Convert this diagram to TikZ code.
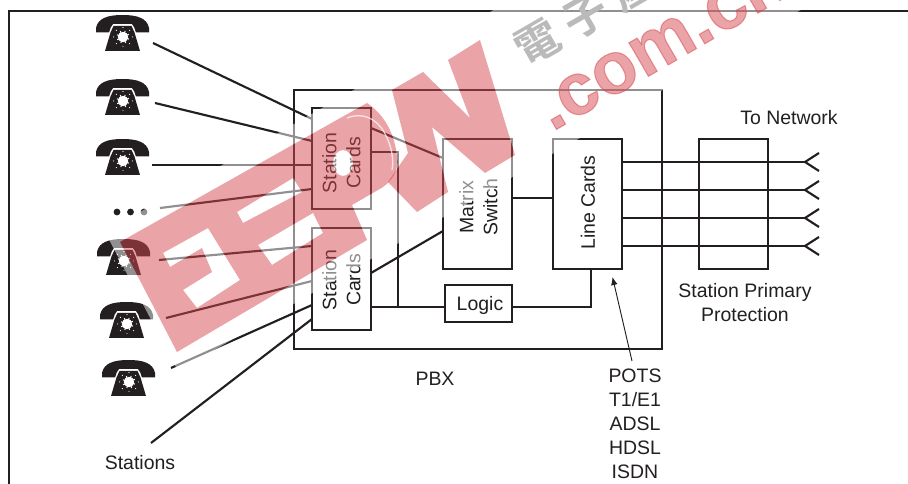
\documentclass[tikz,border=0pt]{standalone}
\usepackage{fontspec}
\setmainfont{Liberation Sans}
\newfontfamily\cjkwm{Noto Sans CJK TC}[BoldFont=* Bold]
\newfontfamily\wmlatin{Liberation Sans Bold}[FakeBold=1.5]
\usetikzlibrary{arrows.meta}
\definecolor{ink}{HTML}{231F20}
\definecolor{wmred}{RGB}{214,72,78}
\tikzset{
  wire/.style={draw=ink,line width=1.6pt},
  frameline/.style={draw=ink,line width=2.2pt},
  box/.style={draw=ink,line width=1.6pt,rectangle,inner sep=0pt},
  lbl/.style={text=ink,font=\fontsize{14.6}{18}\selectfont,inner sep=0pt,align=center},
  rot/.style={lbl,rotate=90},
  phone/.pic={
    \fill[ink] (0,17.5) -- (0,13) .. controls (2,3) and (12,0) .. (26.5,0)
      .. controls (41,0) and (51,3) .. (53,13) -- (53,17.5) -- (40,17.5)
      .. controls (39,14) and (38,11) .. (36,9) -- (17,9)
      .. controls (15,11) and (14,14) .. (13,17.5) -- cycle;
    \fill[ink] (17.5,11) -- (35.5,11) -- (38.5,17.5) -- (44,36) -- (9,36) -- (14.5,17.5) -- cycle;
    \fill[white] (20,8.7) rectangle (33,10.2);
    \fill[white] (27,22) circle (5.2);
    \foreach \a in {0,45,...,315}{
      \draw[white,line width=.8pt] (27,22) -- ++(\a+20:6.4);
      \fill[white] (27,22) ++(\a:9.4) circle (.6);
    }
  }
}
\begin{document}
\begin{tikzpicture}[x=0.75pt,y=-0.75pt]
\useasboundingbox (0,0) rectangle (908,484);
\clip (0,0) rectangle (908,484);
\fill[white] (0,0) rectangle (908,484);
% frame
\coordinate (fa) at (9,484);
\coordinate (fb) at (9,11);
\coordinate (fc) at (908,11);
\draw[frameline] (fa) -- (fb) -- (fc);
% phones
\pic at (96,15) {phone};
\pic at (96,79) {phone};
\pic at (96,139) {phone};
\pic at (97,239) {phone};
\pic at (100,302) {phone};
\pic at (102,360) {phone};
\foreach \x in {117,130.5,144}{\fill[ink] (\x,212) circle (3.4);}
% boxes
\node[box,minimum width=368*0.75pt,minimum height=259*0.75pt] (pbx) at (478,219.5) {};
\node[box,minimum width=59*0.75pt,minimum height=101*0.75pt] (sc1) at (341.5,158.5) {};
\node[box,minimum width=59*0.75pt,minimum height=102*0.75pt] (sc2) at (341.5,279) {};
\node[box,minimum width=69*0.75pt,minimum height=130*0.75pt] (mx) at (477.5,204) {};
\node[box,minimum width=69*0.75pt,minimum height=130*0.75pt] (lc) at (587.5,204) {};
\node[box,minimum width=67*0.75pt,minimum height=37*0.75pt] (lg) at (478.5,303.5) {};
\node[box,minimum width=69*0.75pt,minimum height=130*0.75pt] (pr) at (733.5,204) {};
% box labels
\node[rot] (t1) at (341.5,163) {Station\\Cards};
\node[rot] (t2) at (341.5,280) {Station\\Cards};
\node[rot] (t3) at (478.5,207) {Matrix\\Switch};
\node[rot] (t4) at (588,202.5) {Line Cards};
\node[lbl] (t5) at (480,305) {Logic};
\node[lbl] (t6) at (789,118) {To Network};
\node[lbl] (t7) at (745,302.5) {Station Primary\\Protection};
\node[lbl] (t8) at (435,379) {PBX};
\node[lbl] (t9) at (140,463) {Stations};
\node[lbl] (t10) at (635,424) {POTS\\T1/E1\\ADSL\\HDSL\\ISDN};
% station lines
\coordinate (a1) at (153,43);  \coordinate (b1) at (312,119);
\coordinate (a2) at (155,103); \coordinate (b2) at (312,141);
\coordinate (a3) at (152,165); \coordinate (b3) at (312,165);
\coordinate (a4) at (160,208); \coordinate (b4) at (312,189);
\coordinate (a5) at (159,260); \coordinate (b5) at (312,246);
\coordinate (a6) at (166,318); \coordinate (b6) at (312,281);
\coordinate (a7) at (171,368); \coordinate (b7) at (312,305);
\coordinate (a8) at (151,443); \coordinate (b8) at (312,319);
\foreach \i in {1,...,8}{\draw[wire] (a\i) -- (b\i);}
% internal
\coordinate (m1) at (371,128); \coordinate (m2) at (443,158);
\coordinate (m3) at (371,273); \coordinate (m4) at (443,231);
\draw[wire] (m1) -- (m2);
\draw[wire] (m3) -- (m4);
\coordinate (bt) at (398,152);
\coordinate (bb) at (398,307);
\draw[wire] (sc1.east |- bt) -- (bt) -- (bb);
\draw[wire] (sc2.east |- bb) -- (lg.west |- bb);
\coordinate (ld) at (591,307);
\draw[wire] (lg.east |- ld) -- (ld) -- (lc.south -| ld);
\draw[wire] (mx.east |- 0,198) -- (lc.west |- 0,198);
% trunks
\foreach \i/\y in {1/162,2/190,3/218,4/246}{
  \coordinate (n\i) at (805,\y);
  \draw[wire] (lc.east |- n\i) -- (n\i);
  \draw[wire] (819,\y-9) -- (n\i) -- (819,\y+9);
}
% pointer
\coordinate (pa) at (632,361);
\coordinate (pb) at (612.5,277);
\draw[draw=ink,line width=.7pt,-{Latex[length=6pt,width=5pt]}] (pa) -- (pb);
% watermark halo (everything near the band but not on the red)
\fill[white,opacity=.5,even odd rule]
  (105,232) -- (178,371) -- (818,0) -- (511,0) -- cycle
  (120,242) -- (177,352) -- (367,240) -- (352,205) -- (378,190)
    .. controls (393,182) and (399,170) .. (397,157)
    .. controls (395,135) and (385,115) .. (367,103) -- cycle
  (237,212) -- (293,178) -- (302,192) -- (243,223) -- cycle
  (258,245) -- (313,213) -- (323,233) -- (272,265) -- cycle
  (163,253) -- (208,228) -- (240,280) -- (197,308) -- (183,290) -- (212,272) -- (202,248) -- (170,267) -- cycle
  (343,163) ellipse (10 and 13)
  (392,90) -- (408,153) -- (388,182) -- (417,212) -- (448,192) -- (432,127) -- (485,173) -- (515,155) -- (480,40) -- (448,60) -- (470,118) -- (423,72) -- cycle;
% watermark red letters
\fill[wmred,opacity=.5,even odd rule]
  (120,242) -- (177,352) -- (367,240) -- (352,205) -- (378,190)
    .. controls (393,182) and (399,170) .. (397,157)
    .. controls (395,135) and (385,115) .. (367,103) -- cycle
  (237,212) -- (293,178) -- (302,192) -- (243,223) -- cycle
  (258,245) -- (313,213) -- (323,233) -- (272,265) -- cycle
  (163,253) -- (208,228) -- (240,280) -- (197,308) -- (183,290) -- (212,272) -- (202,248) -- (170,267) -- cycle
  (343,163) ellipse (10 and 13);
\fill[wmred,opacity=.5]
  (392,90) -- (408,153) -- (388,182) -- (417,212) -- (448,192) -- (432,127) -- (485,173) -- (515,155) -- (480,40) -- (448,60) -- (470,118) -- (423,72) -- cycle;
\draw[white,opacity=.7,line width=1pt] (347,118) .. controls (362,112) and (376,118) .. (384,132) .. controls (392,146) and (394,160) .. (392,170);
\node[rotate=30,anchor=base west,inner sep=0pt,text=wmred,text opacity=.5,font=\fontsize{55}{55}\wmlatin\selectfont] (wm1) at (552,132) {.com.cn};
\node[rotate=30,inner sep=0pt,text=black!27,font=\fontsize{33}{33}\cjkwm\bfseries\selectfont] (wm2) at (585,15) {電\hspace{.25em}子\hspace{.25em}產};
\end{tikzpicture}
\end{document}
